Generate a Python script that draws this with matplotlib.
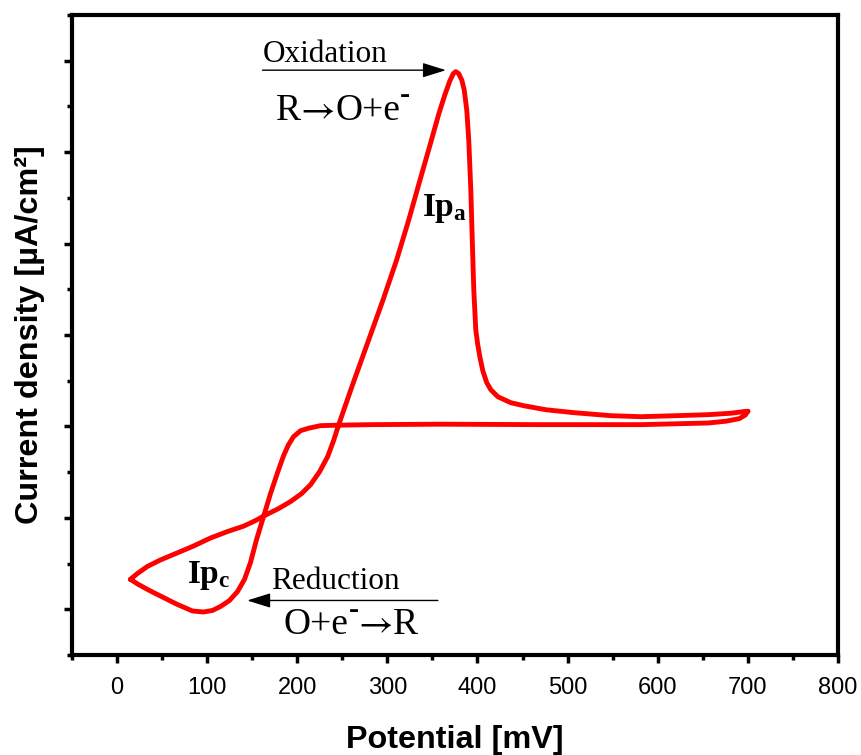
import matplotlib
matplotlib.use("Agg")
import matplotlib.pyplot as plt
from matplotlib.ticker import MultipleLocator, NullFormatter

plt.rcParams['mathtext.fontset'] = 'custom'
plt.rcParams['mathtext.rm'] = 'Liberation Serif'
plt.rcParams['mathtext.bf'] = 'Liberation Serif:bold'
plt.rcParams['mathtext.it'] = 'Liberation Serif:italic'

# Potential [mV] and current density (arbitrary units, baseline ~0)
# Forward (anodic) scan from left vertex to 700 mV
fwd_E = [14.8, 22.6, 33.7, 48.1, 67.0, 84.8, 103.7, 122.6, 140.3, 153.7,
         164.8, 179.2, 192.6, 204.8, 214.8, 224.8, 233.7, 240.3, 246.0, 261.4,
         278.1, 294.8, 310.3, 323.7, 335.9, 347.0, 357.0, 363.7, 369.2, 373.1,
         375.9, 379.2, 382.6, 385.3, 388.1, 390.3, 392.6, 394.2, 395.9, 398.1,
         400.3, 402.6, 405.9, 410.3, 414.8, 422.6, 437.0, 451.4, 475.9, 507.0,
         548.1, 581.4, 620.3, 655.9, 681.4, 694.8, 700.3]
fwd_I = [-1.673, -1.609, -1.532, -1.461, -1.383, -1.309, -1.221, -1.150, -1.092, -1.030,
         -0.970, -0.899, -0.822, -0.735, -0.637, -0.495, -0.331, -0.156, 0.019, 0.456,
         0.914, 1.373, 1.821, 2.258, 2.684, 3.066, 3.416, 3.624, 3.776, 3.858,
         3.880, 3.858, 3.787, 3.678, 3.459, 3.131, 2.585, 2.039, 1.493, 1.056,
         0.893, 0.762, 0.609, 0.477, 0.401, 0.324, 0.259, 0.226, 0.182, 0.150,
         0.117, 0.106, 0.117, 0.128, 0.144, 0.161, 0.166]
# Reverse (cathodic) scan from 700 mV back to left vertex
rev_E = [700.3, 696.9, 690.3, 675.9, 655.9, 581.4, 470.3, 359.2, 281.4, 244.8,
         225.9, 212.6, 203.7, 195.9, 190.3, 184.8, 178.1, 170.3, 162.6, 154.8,
         148.1, 141.4, 133.7, 124.8, 114.8, 105.9, 95.9, 83.7, 67.0, 51.4,
         37.0, 23.7, 14.8]
rev_I = [0.166, 0.122, 0.084, 0.057, 0.037, 0.019, 0.019, 0.024, 0.019, 0.013,
         0.008, -0.020, -0.047, -0.112, -0.200, -0.320, -0.506, -0.735, -0.986, -1.238,
         -1.489, -1.674, -1.806, -1.904, -1.970, -2.013, -2.030, -2.019, -1.948, -1.871,
         -1.800, -1.729, -1.673]

xticks = [0, 100, 200, 300, 400, 500, 600, 700, 800]

fig = plt.figure(figsize=(8.62, 7.55), dpi=100)
ax = fig.add_axes([0.0835, 0.1325, 0.8886, 0.8477])

ax.plot(fwd_E + rev_E[1:], fwd_I + rev_I[1:], color='#ff0000', lw=3.5,
        solid_joinstyle='round', solid_capstyle='round')

ax.set_xlim(-50, 800)
ax.set_ylim(-2.5, 4.5)
ax.set_xticks(xticks)
ax.set_xticklabels([str(t) for t in xticks])
ax.xaxis.set_minor_locator(MultipleLocator(50))
ax.yaxis.set_major_locator(MultipleLocator(1))
ax.yaxis.set_minor_locator(MultipleLocator(0.5))
ax.yaxis.set_major_formatter(NullFormatter())

for sp in ax.spines.values():
    sp.set_linewidth(3)
ax.tick_params(which='major', direction='out', length=6, width=2.5,
               labelsize=17, pad=10)
ax.tick_params(which='minor', direction='out', length=3.5, width=2.5)
for lab in ax.get_xticklabels():
    lab.set_family(['Liberation Sans', 'DejaVu Sans'])

sans = ['Liberation Sans', 'DejaVu Sans']
ax.set_xlabel('Potential [mV]', fontsize=23.3, fontweight='bold', family=sans)
ax.set_ylabel('Current density [µA/cm²]', fontsize=23.3, fontweight='bold', family=sans)
ax.xaxis.set_label_coords(0.5, -0.109)
ax.yaxis.set_label_coords(-0.035, 0.5)

serif = ['Liberation Serif', 'DejaVu Serif']
renderer = fig.canvas.get_renderer()


def chain(x, y, pieces):
    off = 0.0
    for s, kw, dy in pieces:
        t = ax.annotate(s, xy=(x, y), xycoords='data', xytext=(off, dy),
                        textcoords='offset points', ha='left', va='baseline', **kw)
        bb = t.get_window_extent(renderer)
        off += bb.width * 72.0 / fig.dpi


fs = 27
txt = dict(fontsize=fs, family=serif)
arr = dict(fontsize=fs, family=['STIXGeneral', 'DejaVu Serif'])
hyp = dict(fontsize=22, family=serif, fontweight='bold')

# Oxidation annotation
ax.annotate('', xy=(365, 3.896), xytext=(161.4, 3.896),
            arrowprops=dict(arrowstyle='-|>,head_length=0.8,head_width=0.25',
                            color='black', lw=1, mutation_scale=18,
                            shrinkA=0, shrinkB=0))
ax.text(161.4, 3.984, 'Oxidation', fontsize=22.5, family=serif,
        ha='left', va='baseline')
chain(175.9, 3.35, [('R', txt, 0), ('→', arr, 0), ('O+e', txt, 0), ('-', hyp, 12)])

# Reduction annotation
ax.annotate('', xy=(144.4, -1.904), xytext=(356, -1.904),
            arrowprops=dict(arrowstyle='-|>,head_length=0.8,head_width=0.25',
                            color='black', lw=1, mutation_scale=18,
                            shrinkA=0, shrinkB=0))
ax.text(170.5, -1.774, 'Reduction', fontsize=22.5, family=serif,
        ha='left', va='baseline')
chain(184.8, -2.275, [('O+e', txt, 0), ('-', hyp, 12), ('→', arr, 0), ('R', txt, 0)])

# Peak labels
ax.text(338.1, 2.387, r'$\mathbf{Ip}_{\mathbf{a}}$', fontsize=24, ha='left', va='center')
ax.text(78.1, -1.631, r'$\mathbf{Ip}_{\mathbf{c}}$', fontsize=24, ha='left', va='center')

fig.savefig('out.png', dpi=100)
